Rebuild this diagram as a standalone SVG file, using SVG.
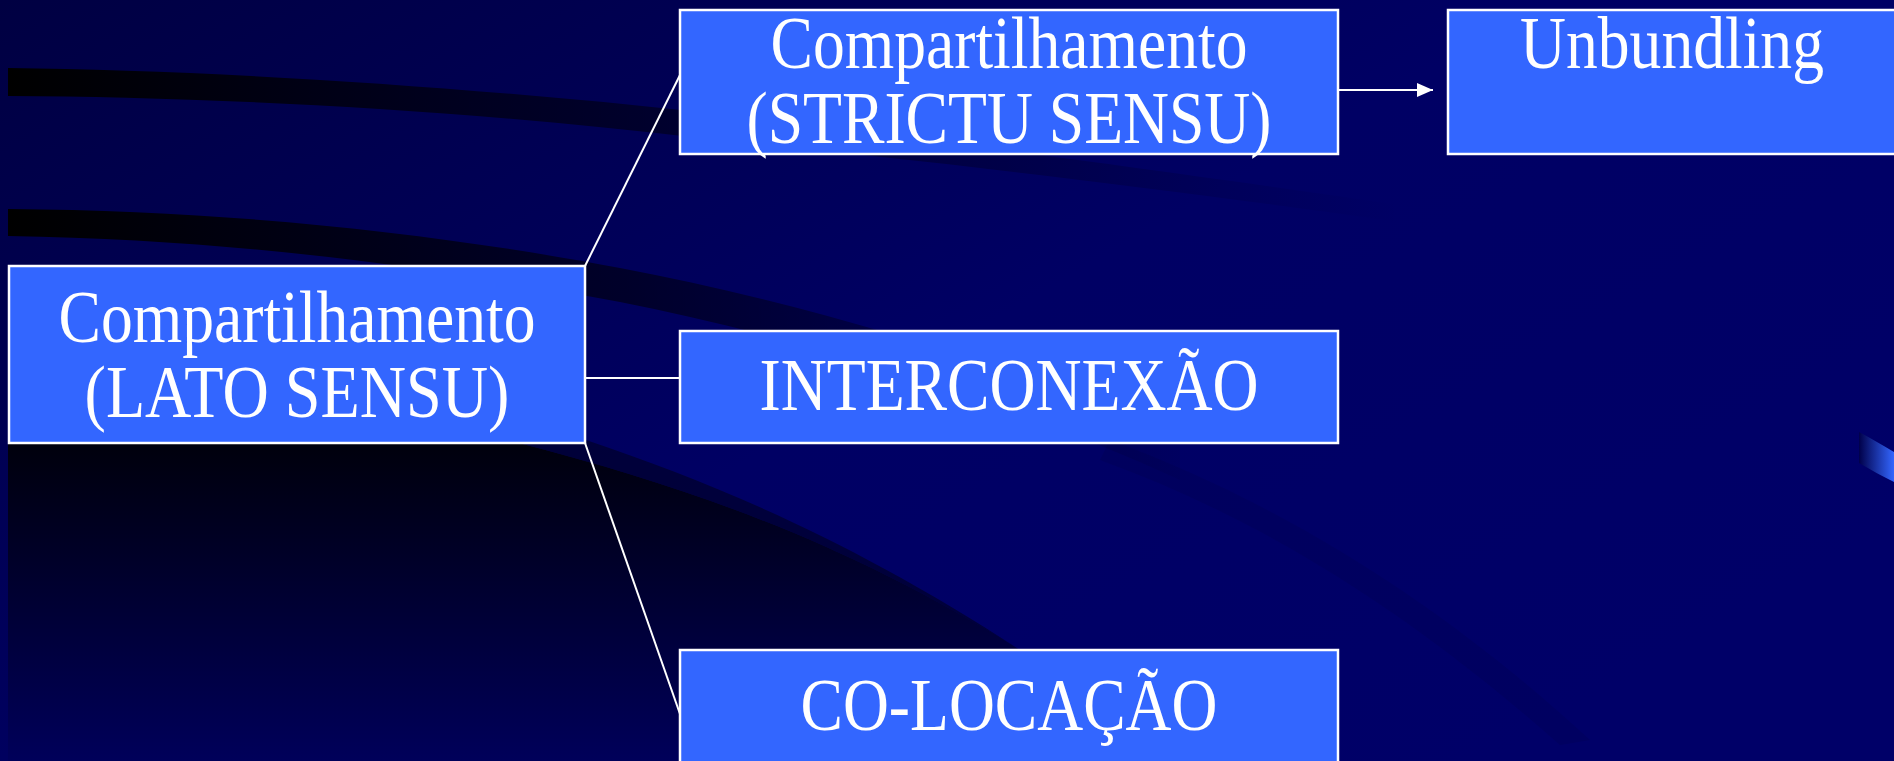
<svg xmlns="http://www.w3.org/2000/svg" width="1894" height="761" viewBox="0 0 1894 761">
  <defs>
    <linearGradient id="bg" x1="0" y1="0" x2="1" y2="0.7">
      <stop offset="0" stop-color="#000042"/>
      <stop offset="0.55" stop-color="#000064"/>
      <stop offset="1" stop-color="#000068"/>
    </linearGradient>
    <linearGradient id="bandA" gradientUnits="userSpaceOnUse" x1="8" y1="0" x2="1400" y2="0">
      <stop offset="0" stop-color="#000000" stop-opacity="1"/>
      <stop offset="0.45" stop-color="#000010" stop-opacity="0.6"/>
      <stop offset="1" stop-color="#000020" stop-opacity="0"/>
    </linearGradient>
    <linearGradient id="bandB" gradientUnits="userSpaceOnUse" x1="8" y1="0" x2="1250" y2="0">
      <stop offset="0" stop-color="#000000" stop-opacity="1"/>
      <stop offset="0.5" stop-color="#000010" stop-opacity="0.65"/>
      <stop offset="1" stop-color="#000020" stop-opacity="0"/>
    </linearGradient>
    <linearGradient id="darkLow" gradientUnits="userSpaceOnUse" x1="0" y1="443" x2="0" y2="761">
      <stop offset="0" stop-color="#00000c"/>
      <stop offset="1" stop-color="#00005a"/>
    </linearGradient>
    <linearGradient id="ribbon" gradientUnits="userSpaceOnUse" x1="1859" y1="0" x2="1894" y2="0">
      <stop offset="0" stop-color="#00004a"/>
      <stop offset="1" stop-color="#3366ff"/>
    </linearGradient>
    <marker id="arrow" markerUnits="userSpaceOnUse" markerWidth="18" markerHeight="16" refX="16" refY="8" orient="auto">
      <path d="M0,1 L16,8 L0,15 Z" fill="#ffffff"/>
    </marker>
    <style>
      .box { fill: #3366ff; stroke: #ffffff; stroke-width: 2.5; }
      .lbl { font-family: "Liberation Serif", "Times New Roman", serif; font-size: 73px; fill: #ffffff; text-anchor: middle; }
      .conn { stroke: #ffffff; stroke-width: 2; fill: none; }
    </style>
  </defs>

  <g id="background">
    <rect x="0" y="0" width="1894" height="761" fill="url(#bg)"/>
    <path d="M8,68 C200,70 450,85 700,112 C900,136 1100,162 1400,205 L1400,222 C1100,180 900,158 700,138 C450,108 200,97 8,96 Z" fill="url(#bandA)"/>
    <path d="M8,209 C250,211 450,236 620,268 C800,302 1000,360 1180,440 L1180,480 C1000,398 800,338 620,302 C450,270 250,240 8,236 Z" fill="url(#bandB)"/>
    <path d="M8,443 L519,443 C700,490 850,545 1020,650 L1020,761 L8,761 Z" fill="url(#darkLow)"/>
    <path d="M519,443 L586,440 C720,485 860,545 1020,650 C850,545 700,490 519,443 Z" fill="#000020" opacity="0.6"/>
    <path d="M1110,440 C1300,510 1460,620 1590,740 L1560,745 C1430,630 1280,525 1100,460 Z" fill="#000030" opacity="0.12"/>
    <path d="M1859,432 C1871,438 1882,445 1894,452 L1894,482 C1882,476 1871,470 1859,463 Z" fill="url(#ribbon)"/>
  </g>

  <g id="connectors">
    <line class="conn" x1="585" y1="266" x2="680" y2="75"/>
    <line class="conn" x1="585" y1="378" x2="680" y2="378"/>
    <line class="conn" x1="585" y1="443" x2="680" y2="714"/>
    <line class="conn" x1="1338" y1="90" x2="1433" y2="90" marker-end="url(#arrow)"/>
  </g>

  <g id="node-lato">
    <rect class="box" x="9" y="266" width="576" height="177"/>
    <text class="lbl" x="297" y="342" textLength="477" lengthAdjust="spacingAndGlyphs">Compartilhamento</text>
    <text class="lbl" x="297" y="417" textLength="425" lengthAdjust="spacingAndGlyphs">(LATO SENSU)</text>
  </g>

  <g id="node-strictu">
    <rect class="box" x="680" y="10" width="658" height="144"/>
    <text class="lbl" x="1009" y="68" textLength="477" lengthAdjust="spacingAndGlyphs">Compartilhamento</text>
    <text class="lbl" x="1009" y="143" textLength="525" lengthAdjust="spacingAndGlyphs">(STRICTU SENSU)</text>
  </g>

  <g id="node-unbundling">
    <rect class="box" x="1448" y="10" width="470" height="144"/>
    <text class="lbl" x="1672" y="68" textLength="304" lengthAdjust="spacingAndGlyphs">Unbundling</text>
  </g>

  <g id="node-interconexao">
    <rect class="box" x="680" y="331" width="658" height="112"/>
    <text class="lbl" x="1009" y="410" textLength="499" lengthAdjust="spacingAndGlyphs">INTERCONEXÃO</text>
  </g>

  <g id="node-colocacao">
    <rect class="box" x="680" y="650" width="658" height="130"/>
    <text class="lbl" x="1009" y="730" textLength="417" lengthAdjust="spacingAndGlyphs">CO-LOCAÇÃO</text>
  </g>
</svg>
